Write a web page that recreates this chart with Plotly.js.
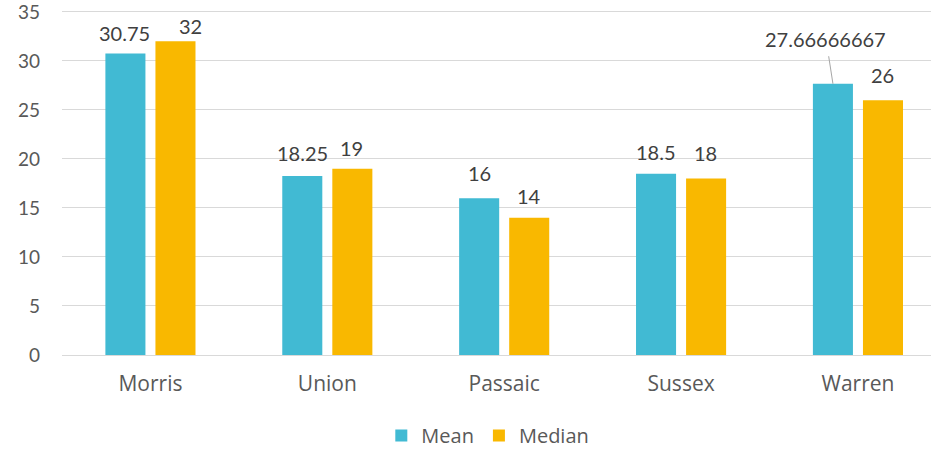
<!DOCTYPE html>
<html>
<head>
<meta charset="utf-8">
<script src="https://cdn.plot.ly/plotly-3.0.1.min.js"></script>
<style>html,body{margin:0;padding:0;background:#fff;}#chart{width:931px;height:449px;}</style>
</head>
<body>
<div id="chart"></div>
<script>
// ---- data ----
const categories = ['Morris', 'Union', 'Passaic', 'Sussex', 'Warren'];
const meanValues = [30.75, 18.25, 16, 18.5, 27.66666667];
const medianValues = [32, 19, 14, 18, 26];
const meanLabels = ['30.75', '18.25', '16', '18.5', '27.66666667'];
const medianLabels = ['32', '19', '14', '18', '26'];
const yTickValues = [0, 5, 10, 15, 20, 25, 30, 35];
const seriesNames = ['Mean', 'Median'];

// ---- styling / placement (not data) ----
const meanColor = '#41BAD3';
const medianColor = '#F9B800';
const axisTextColor = '#595959';
const labelColor = '#404040';
const groupOffset = 25; // px from category center to each bar center
const meanLabelShift = [[-1, 21], [0, 23], [0, 25], [0, 22], [0, 0]];
const medianLabelShift = [[15, 15], [-1, 21], [0, 22], [-1, 26], [0, 25]];

const traces = [
  {type: 'bar', name: seriesNames[0], x: categories, y: meanValues,
   marker: {color: meanColor}, hoverinfo: 'skip'},
  {type: 'bar', name: seriesNames[1], x: categories, y: medianValues,
   marker: {color: medianColor}, hoverinfo: 'skip'}
];

const labelFont = {family: 'Lato, "Open Sans", sans-serif', size: 20, color: labelColor};
const annotations = [];
categories.forEach((c, i) => {
  if (i === 4) {
    annotations.push({
      x: c, y: meanValues[i], xref: 'x', yref: 'y', text: meanLabels[i],
      xshift: -groupOffset, showarrow: true, arrowhead: 0, arrowwidth: 1,
      arrowcolor: '#A6A6A6', ax: -7, ay: -45, standoff: 0, startstandoff: 4,
      font: labelFont
    });
  } else {
    annotations.push({
      x: c, y: meanValues[i], xref: 'x', yref: 'y', text: meanLabels[i],
      showarrow: false, xanchor: 'center', yanchor: 'middle',
      xshift: -groupOffset + meanLabelShift[i][0], yshift: meanLabelShift[i][1],
      font: labelFont
    });
  }
  annotations.push({
    x: c, y: medianValues[i], xref: 'x', yref: 'y', text: medianLabels[i],
    showarrow: false, xanchor: 'center', yanchor: 'middle',
    xshift: groupOffset + medianLabelShift[i][0], yshift: medianLabelShift[i][1],
    font: labelFont
  });
});

const layout = {
  width: 931, height: 449,
  margin: {l: 62, r: 0, t: 7, b: 94, pad: 0},
  paper_bgcolor: '#ffffff', plot_bgcolor: '#ffffff',
  barmode: 'group', bargap: 0.434, bargroupgap: 0.2,
  showlegend: true,
  legend: {orientation: 'h', x: 0.49, xanchor: 'center', yref: 'container', y: 0.03, yanchor: 'middle',
           font: {family: '"Open Sans", sans-serif', size: 20, color: axisTextColor}},
  xaxis: {
    range: [-0.5, 4.413], showgrid: false, showline: false, zeroline: false,
    ticks: '', ticklabelstandoff: 14,
    tickfont: {family: '"Open Sans", sans-serif', size: 21, color: axisTextColor},
    fixedrange: true
  },
  yaxis: {
    range: [0, 35.5], tickmode: 'array', tickvals: yTickValues, ticktext: yTickValues.map(String),
    showgrid: true, gridcolor: '#D9D9D9', gridwidth: 1,
    zeroline: true, zerolinecolor: '#D9D9D9', zerolinewidth: 1,
    showline: false, ticks: '', ticklabelstandoff: 21, ticklabeloverflow: 'allow',
    showticklabels: true,
    tickfont: {family: 'Lato, "Open Sans", sans-serif', size: 19, color: axisTextColor},
    fixedrange: true
  },
  annotations: annotations
};

Plotly.newPlot('chart', traces, layout, {staticPlot: true, displayModeBar: false});
</script>
</body>
</html>
